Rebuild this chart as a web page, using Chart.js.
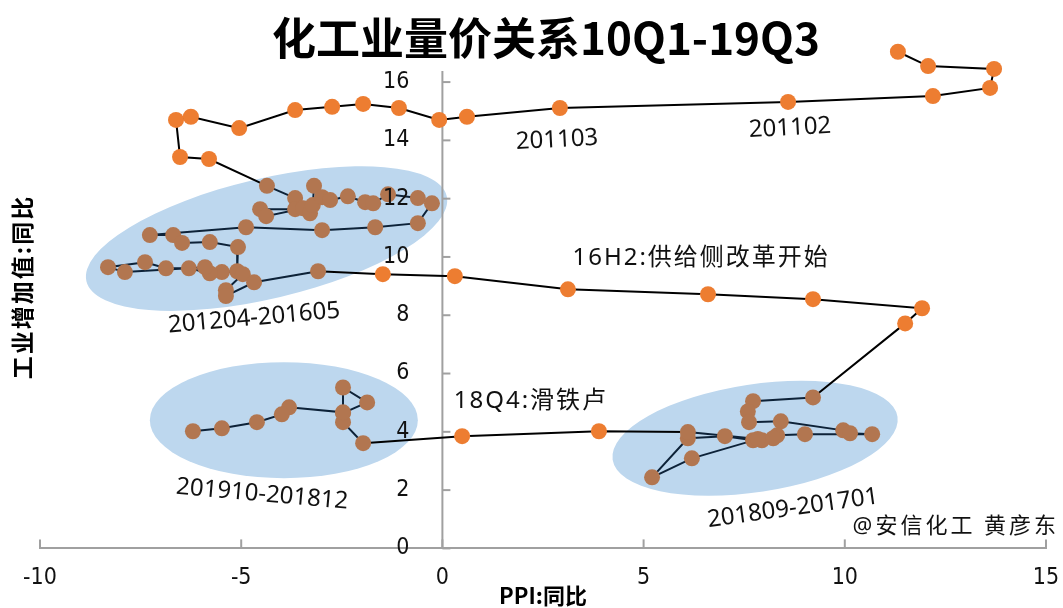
<!DOCTYPE html>
<html>
<head>
<meta charset="utf-8">
<script src="https://cdn.jsdelivr.net/npm/chart.js@4.4.1/dist/chart.umd.min.js"></script>
<style>
  body { margin: 0; background: #fff; }
</style>
</head>
<body>
<canvas id="chart" width="1063" height="608"></canvas>
<script>
// PPI yoy (x) and industrial value added yoy (y), by period
// 2010Q1 - 2012Q1
const ppi1 = [11.32, 12.07, 13.71, 13.61, 12.19, 8.59, 2.92, 0.61, -0.08, -1.08, -1.97, -2.74, -3.66, -5.05, -6.25, -6.62, -6.52, -5.80];
const iva1 = [17.04, 16.55, 16.45, 15.80, 15.52, 15.32, 15.11, 14.81, 14.70, 15.11, 15.25, 15.15, 15.04, 14.42, 14.81, 14.70, 13.43, 13.36];
// 201204 - 201605
const ppi2 = [-4.36, -3.66, -3.66, -4.53, -4.38, -3.46, -3.29, -3.22, -3.19, -2.99, -2.79, -2.35, -1.92, -1.72, -1.35, -0.61, -0.26, -0.61, -1.67, -2.99,
              -4.88, -7.27, -6.69, -6.47, -5.78, -5.08, -5.10, -5.48, -5.78, -6.30, -6.87, -7.39, -8.31, -7.89, -5.90, -4.96, -5.38, -5.38, -4.68, -3.09];
const iva2 = [12.44, 12.02, 11.64, 11.64, 11.40, 11.67, 11.50, 11.78, 12.44, 12.05, 11.95, 12.08, 11.88, 11.84, 12.15, 12.02, 11.84, 11.16, 11.02, 10.92,
              11.02, 10.75, 10.75, 10.48, 10.51, 10.34, 9.51, 9.48, 9.44, 9.61, 9.61, 9.82, 9.65, 9.48, 9.65, 9.41, 8.86, 8.66, 9.13, 9.51];
// 16H2
const ppi3 = [-1.48, 0.31, 3.12, 6.60, 9.21, 11.92, 11.50];
const iva3 = [9.41, 9.34, 8.89, 8.72, 8.55, 8.24, 7.72];
// 201701 - 201809
const ppi4 = [9.21, 7.72, 7.59, 7.62, 8.41, 9.96, 10.13, 10.68, 9.01, 8.32, 8.22, 7.94, 7.72, 7.02, 6.10, 5.21, 6.20, 7.84, 6.10];
const iva4 = [5.18, 5.05, 4.70, 4.33, 4.36, 4.05, 3.95, 3.92, 3.92, 3.88, 3.78, 3.71, 3.71, 3.85, 3.78, 2.44, 3.09, 3.75, 3.99];
// 18Q4
const ppi5 = [3.89, 0.49];
const iva5 = [4.02, 3.85];
// 201812 - 201910
const ppi6 = [-1.97, -2.47, -2.47, -1.87, -2.47, -2.47, -3.81, -3.99, -4.61, -5.48, -6.20];
const iva6 = [3.61, 4.33, 4.64, 5.01, 5.52, 4.67, 4.84, 4.60, 4.33, 4.12, 4.02];

const xTicks = [-10, -5, 0, 5, 10, 15];
const yTicks = [0, 2, 4, 6, 8, 10, 12, 14, 16];
const yAxisTop = 16.38;

const ORANGE = '#ED7D31';
const BROWN = '#B27650';
const TICK_FONT = '23px "DejaVu Sans Condensed", sans-serif';

// period groups: [x, y, highlighted]
const groups = [
  [ppi1, iva1, false], [ppi2, iva2, true], [ppi3, iva3, false],
  [ppi4, iva4, true], [ppi5, iva5, false], [ppi6, iva6, true]
];

const points = [];
const marked = [];
groups.forEach(([xs, ys, hi]) => {
  xs.forEach((v, i) => {
    points.push({x: v, y: ys[i]});
    marked.push(hi);
  });
});

// highlighted zones
const zones = [
  {cx: -4.37, cy: 10.63, rx: 4.60, ry: 2.06, angle: -13.3},
  {cx: -3.94, cy: 4.40, rx: 3.33, ry: 1.99, angle: 0},
  {cx: 7.77, cy: 3.78, rx: 3.58, ry: 1.85, angle: -8.6}
];

const notes = [
  {text: '201103', x: 2.85, y: 14.01, rot: -3},
  {text: '201102', x: 8.64, y: 14.42, rot: -3},
  {text: '16H2:供给侧改革开始', x: 6.43, y: 9.96, rot: 0, spacing: 2},
  {text: '18Q4:滑铁卢', x: 2.20, y: 5.05, rot: 0, spacing: 2},
  {text: '201204-201605', x: -4.68, y: 7.90, rot: -5},
  {text: '201910-201812', x: -4.48, y: 1.85, rot: 5},
  {text: '201809-201701', x: 8.71, y: 1.37, rot: -8},
  {text: '@安信化工 黄彦东', x: 12.76, y: 0.76, rot: 0, spacing: 3, size: 22}
];

const decor = {
  id: 'decor',
  beforeDraw(chart) {
    const {ctx, scales: {x, y}} = chart;
    ctx.save();
    ctx.fillStyle = '#BDD7EE';
    zones.forEach(z => {
      const px = x.getPixelForValue(z.cx);
      const py = y.getPixelForValue(z.cy);
      const rx = Math.abs(x.getPixelForValue(z.cx + z.rx) - px);
      const ry = Math.abs(y.getPixelForValue(z.cy + z.ry) - py);
      ctx.beginPath();
      ctx.ellipse(px, py, rx, ry, z.angle * Math.PI / 180, 0, Math.PI * 2);
      ctx.fill();
    });
    // tick marks on the inner side
    ctx.strokeStyle = '#a0a0a0';
    ctx.lineWidth = 2;
    const y0 = y.getPixelForValue(0);
    const x0 = x.getPixelForValue(0);
    xTicks.forEach(v => {
      const p = x.getPixelForValue(v);
      ctx.beginPath(); ctx.moveTo(p, y0); ctx.lineTo(p, y0 - 9); ctx.stroke();
    });
    yTicks.forEach(v => {
      const p = y.getPixelForValue(v);
      ctx.beginPath(); ctx.moveTo(x0, p); ctx.lineTo(x0 + 8, p); ctx.stroke();
    });
    // vertical axis line stops at its own top
    ctx.beginPath();
    ctx.moveTo(x0, y0);
    ctx.lineTo(x0, y.getPixelForValue(yAxisTop));
    ctx.stroke();
    ctx.restore();
  },
  afterDraw(chart) {
    const {ctx, scales: {x, y}} = chart;
    ctx.save();
    ctx.fillStyle = '#000';
    ctx.textBaseline = 'middle';
    // y tick labels, left of the axis at x = 0
    ctx.font = TICK_FONT;
    ctx.fillStyle = '#111';
    ctx.textAlign = 'right';
    const x0 = x.getPixelForValue(0);
    yTicks.forEach(v => ctx.fillText(String(v), x0 - 33, y.getPixelForValue(v)));
    ctx.textAlign = 'center';
    ctx.fillStyle = '#000';
    // title
    ctx.font = 'bold 44px "Noto Sans CJK SC"';
    ctx.fillText('化工业量价关系10Q1-19Q3', 546, 38);
    // axis titles
    ctx.font = 'bold 22px "Noto Sans CJK SC"';
    ctx.fillText('PPI:同比', 543, 596);
    ctx.save();
    ctx.font = 'bold 23px "Noto Sans CJK SC"';
    ctx.letterSpacing = '2px';
    ctx.translate(22, 287);
    ctx.rotate(-Math.PI / 2);
    ctx.fillText('工业增加值:同比', 0, 0);
    ctx.restore();
    // notes
    notes.forEach(n => {
      ctx.save();
      ctx.font = (n.size || 24) + 'px "Noto Sans", "Noto Sans CJK SC"';
      ctx.letterSpacing = (n.spacing || 0) + 'px';
      ctx.translate(x.getPixelForValue(n.x), y.getPixelForValue(n.y));
      ctx.rotate(n.rot * Math.PI / 180);
      ctx.fillStyle = '#111';
      ctx.fillText(n.text, 0, 0);
      ctx.restore();
    });
    ctx.restore();
  }
};

const ctx = document.getElementById('chart').getContext('2d');
const chart = new Chart(ctx, {
  type: 'scatter',
  data: {
    datasets: [{
      data: points,
      showLine: true,
      clip: false,
      borderWidth: 2,
      borderColor: '#000',
      segment: {
        borderColor: c => (marked[c.p0DataIndex] && marked[c.p1DataIndex]) ? '#0d2238' : '#000'
      },
      pointRadius: 8,
      pointHoverRadius: 8,
      pointBorderWidth: 0,
      pointBackgroundColor: marked.map(m => m ? BROWN : ORANGE)
    }]
  },
  options: {
    responsive: false,
    animation: false,
    layout: {padding: {left: 40, right: 17, top: 47.1, bottom: 14}},
    plugins: {legend: {display: false}, title: {display: false}, tooltip: {enabled: false}},
    scales: {
      x: {
        type: 'linear',
        position: 'bottom',
        min: -10,
        max: 15,
        grid: {display: false, drawTicks: true, tickLength: 14},
        border: {display: true, color: '#a0a0a0', width: 2},
        afterBuildTicks: axis => { axis.ticks = xTicks.map(v => ({value: v})); },
        ticks: {
          padding: 2,
          color: '#111',
          font: {family: '"DejaVu Sans Condensed", sans-serif', size: 23}
        }
      },
      y: {
        type: 'linear',
        position: {x: 0},
        min: 0,
        max: 17.2,
        grid: {display: false, drawTicks: false},
        border: {display: false},
        afterBuildTicks: axis => { axis.ticks = yTicks.map(v => ({value: v})); },
        ticks: {display: false}
      }
    }
  },
  plugins: [decor]
});
</script>
</body>
</html>
